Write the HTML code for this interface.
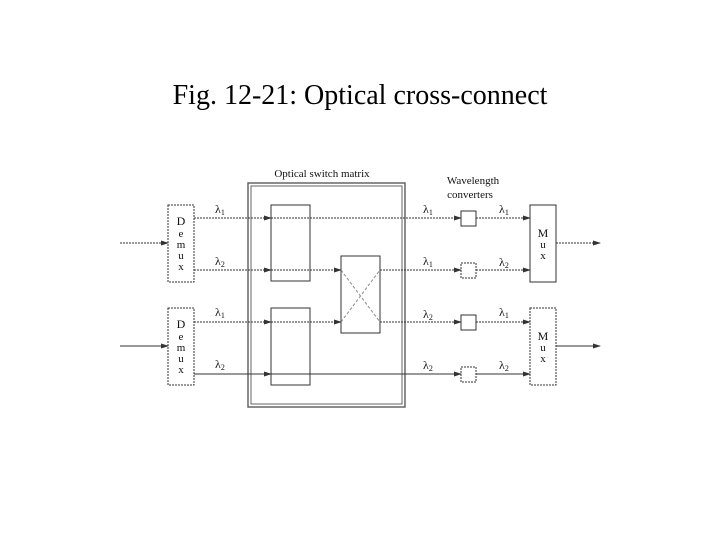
<!DOCTYPE html>
<html><head><meta charset="utf-8"><style>body{margin:0;background:#fff}</style></head><body>
<svg width="720" height="540" xmlns="http://www.w3.org/2000/svg" font-family="Liberation Serif, serif">
<defs><marker id="a" markerWidth="8" markerHeight="6" refX="7" refY="3" orient="auto" markerUnits="userSpaceOnUse"><path d="M0,0.5 L8,3 L0,5.5 Z" fill="#333"/></marker></defs>
<text x="360" y="104" font-size="28" text-anchor="middle">Fig. 12-21: Optical cross-connect</text>
<g fill="none" stroke="#333" stroke-width="1">
<rect x="248" y="183" width="157" height="224" stroke="#666" stroke-width="1.5"/>
<rect x="251" y="186" width="151" height="218" stroke="#666"/>
<rect x="168" y="205" width="26" height="77" stroke-dasharray="2,1"/>
<rect x="168" y="308" width="26" height="77" stroke-dasharray="2,1"/>
<rect x="271" y="205" width="39" height="76"/>
<rect x="271" y="308" width="39" height="77"/>
<rect x="341" y="256" width="39" height="77"/>
<line x1="341" y1="270" x2="380" y2="322" stroke-dasharray="3,2" stroke="#888"/>
<line x1="341" y1="322" x2="380" y2="270" stroke-dasharray="3,2" stroke="#888"/>
<rect x="461" y="211" width="15" height="15"/>
<rect x="461" y="263" width="15" height="15" stroke-dasharray="2,1"/>
<rect x="461" y="315" width="15" height="15"/>
<rect x="461" y="367" width="15" height="15" stroke-dasharray="2,1"/>
<rect x="530" y="205" width="26" height="77"/>
<rect x="530" y="308" width="26" height="77" stroke-dasharray="2,1"/>
<g stroke-dasharray="2,1">
<line x1="120" y1="243" x2="168" y2="243" marker-end="url(#a)"/>
<line x1="194" y1="218" x2="271" y2="218" marker-end="url(#a)"/>
<line x1="194" y1="270" x2="271" y2="270" marker-end="url(#a)"/>
<line x1="194" y1="322" x2="271" y2="322" marker-end="url(#a)"/>
<line x1="271" y1="218" x2="461" y2="218" marker-end="url(#a)"/>
<line x1="271" y1="270" x2="341" y2="270" marker-end="url(#a)"/>
<line x1="271" y1="322" x2="341" y2="322" marker-end="url(#a)"/>
<line x1="380" y1="270" x2="461" y2="270" marker-end="url(#a)"/>
<line x1="380" y1="322" x2="461" y2="322" marker-end="url(#a)"/>
<line x1="476" y1="218" x2="530" y2="218" marker-end="url(#a)"/>
<line x1="476" y1="270" x2="530" y2="270" marker-end="url(#a)"/>
<line x1="476" y1="322" x2="530" y2="322" marker-end="url(#a)"/>
<line x1="556" y1="243" x2="600" y2="243" marker-end="url(#a)"/>
</g>
<line x1="120" y1="346" x2="168" y2="346" marker-end="url(#a)"/>
<line x1="194" y1="374" x2="271" y2="374" marker-end="url(#a)"/>
<line x1="271" y1="374" x2="461" y2="374" marker-end="url(#a)"/>
<line x1="476" y1="374" x2="530" y2="374" marker-end="url(#a)"/>
<line x1="556" y1="346" x2="600" y2="346" marker-end="url(#a)"/>
</g>
<g font-size="11" text-anchor="middle" fill="#111">
<text x="322" y="177">Optical switch matrix</text>
<text x="473" y="184" text-anchor="middle">Wavelength</text>
<text x="470" y="198" text-anchor="middle">converters</text>
<text x="181" y="225" font-size="12">D</text><text x="181" y="237">e</text><text x="181" y="248">m</text><text x="181" y="259">u</text><text x="181" y="270">x</text>
<text x="181" y="328" font-size="12">D</text><text x="181" y="340">e</text><text x="181" y="351">m</text><text x="181" y="362">u</text><text x="181" y="373">x</text>
<text x="543" y="237" font-size="12">M</text><text x="543" y="248">u</text><text x="543" y="259">x</text>
<text x="543" y="340" font-size="12">M</text><text x="543" y="351">u</text><text x="543" y="362">x</text>
</g>
<g font-size="12" fill="#111">
<text x="215" y="213">λ<tspan font-size="8" dy="2">1</tspan></text>
<text x="215" y="265">λ<tspan font-size="8" dy="2">2</tspan></text>
<text x="215" y="316">λ<tspan font-size="8" dy="2">1</tspan></text>
<text x="215" y="368">λ<tspan font-size="8" dy="2">2</tspan></text>
<text x="423" y="213">λ<tspan font-size="8" dy="2">1</tspan></text>
<text x="423" y="265">λ<tspan font-size="8" dy="2">1</tspan></text>
<text x="423" y="318">λ<tspan font-size="8" dy="2">2</tspan></text>
<text x="423" y="369">λ<tspan font-size="8" dy="2">2</tspan></text>
<text x="499" y="213">λ<tspan font-size="8" dy="2">1</tspan></text>
<text x="499" y="266">λ<tspan font-size="8" dy="2">2</tspan></text>
<text x="499" y="316">λ<tspan font-size="8" dy="2">1</tspan></text>
<text x="499" y="369">λ<tspan font-size="8" dy="2">2</tspan></text>
</g>
</svg>
</body></html>
